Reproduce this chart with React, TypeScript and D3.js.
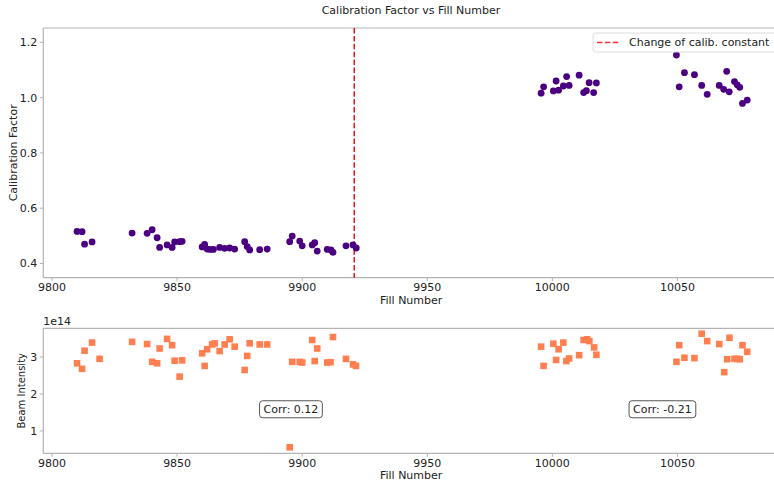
import React, { useEffect, useRef } from 'react';
import * as d3 from 'd3';

// calibration factor per fill (top panel)
const calibFill = [
    9810, 9812, 9813, 9816, 9832, 9838, 9840, 9842, 9843, 9846, 9848, 9849, 9851, 9852,
    9860, 9861, 9862, 9863.2, 9864.5, 9867, 9869, 9871, 9873, 9877, 9878, 9879, 9883, 9886,
    9895, 9896, 9899, 9900, 9904, 9905, 9906, 9910, 9911.5, 9912.3, 9917.5, 9920.3, 9921.6,
    9995.5, 9996.5, 10000.4, 10001.5, 10002.5, 10004.4, 10005.7, 10006.7, 10010.7, 10012.5,
    10013.6, 10014.7, 10016.5, 10017.6, 10049.6, 10050.7, 10052.8, 10056.8, 10059.7, 10061.9,
    10066.7, 10068.5, 10069.7, 10070.7, 10072.8, 10073.9, 10074.9, 10076, 10077.9,
];
const calibFactor = [
    0.516, 0.515, 0.47, 0.478, 0.51, 0.509, 0.522, 0.493, 0.458, 0.467, 0.458, 0.478, 0.479, 0.48,
    0.46, 0.469, 0.452, 0.451, 0.451, 0.458, 0.455, 0.456, 0.452, 0.479, 0.461, 0.449, 0.45, 0.452,
    0.479, 0.499, 0.481, 0.464, 0.467, 0.475, 0.445, 0.451, 0.449, 0.44, 0.464, 0.467, 0.456,
    1.016, 1.039, 1.024, 1.06, 1.027, 1.042, 1.076, 1.044, 1.081, 1.018,
    1.025, 1.054, 1.018, 1.053, 1.154, 1.039, 1.09, 1.083, 1.044, 1.012,
    1.044, 1.03, 1.095, 1.021, 1.058, 1.046, 1.037, 0.979, 0.991,
];

// beam intensity per fill (bottom panel)
const beamFill = [
    9810, 9812, 9813, 9816, 9819, 9832, 9838, 9840, 9842, 9843, 9846, 9848, 9849, 9851, 9852,
    9860, 9861, 9862, 9864, 9865, 9867, 9869, 9871, 9873, 9877, 9878, 9879, 9883, 9886,
    9895, 9896, 9899, 9900, 9904, 9905, 9906, 9910, 9911.3, 9912.3, 9917.5, 9920.3, 9921.5,
    9995.5, 9996.5, 10000.4, 10001.5, 10002.5, 10004.4, 10005.6, 10006.7, 10010.7, 10012.5,
    10013.9, 10014.8, 10016.7, 10017.6, 10049.6, 10050.7, 10052.8, 10056.8, 10059.7, 10061.9,
    10066.7, 10068.7, 10069.9, 10070.8, 10072.8, 10073.9, 10074.9, 10076, 10077.9,
];
const beamIntensity = [
    2.83e14, 2.68e14, 3.17e14, 3.39e14, 2.95e14, 3.41e14, 3.35e14, 2.87e14, 2.83e14, 3.23e14,
    3.49e14, 3.32e14, 2.9e14, 2.47e14, 2.91e14,
    3.1e14, 2.76e14, 3.21e14, 3.34e14, 3.37e14, 3.16e14, 3.34e14, 3.48e14, 3.28e14, 2.65e14,
    3.03e14, 3.37e14, 3.34e14, 3.34e14,
    0.56e14, 2.87e14, 2.87e14, 2.85e14, 3.46e14, 2.89e14, 3.23e14, 2.85e14, 2.86e14, 3.54e14,
    2.95e14, 2.8e14, 2.76e14,
    3.28e14, 2.76e14, 3.36e14, 2.92e14, 3.21e14, 3.39e14, 2.89e14, 2.96e14, 3.05e14, 3.46e14,
    3.48e14, 3.43e14, 3.26e14, 3.06e14, 2.87e14, 3.32e14, 2.98e14, 2.97e14, 3.63e14, 3.43e14,
    3.35e14, 2.59e14, 2.94e14, 3.52e14, 2.95e14, 2.95e14, 2.94e14, 3.32e14, 3.14e14,
];

const xTicks = [9800, 9850, 9900, 9950, 10000, 10050];
const calibTicks = [0.4, 0.6, 0.8, 1.0, 1.2];
const beamTicks = [1e14, 2e14, 3e14];
const changeFill = 9920.8;
const corrLabels = [
    { fill: 9895.5, value: 1.6e14, text: 'Corr: 0.12' },
    { fill: 10044, value: 1.6e14, text: 'Corr: -0.21' },
];

const W = 774;
const H = 481;
const FONT = 'DejaVu Sans, sans-serif';
const SPINE = '#b3b3b3';

const App: React.FC = () => {
    const svgRef = useRef<SVGSVGElement>(null);

    useEffect(() => {
        if (!svgRef.current) return;
        const svg = d3.select(svgRef.current);
        svg.selectAll('*').remove();

        const left = 43.3;
        const right = 779;
        const x = d3.scaleLinear().domain([9796.5, 10090.6]).range([left, right]);

        svg.append('text')
            .attr('x', 411).attr('y', 14)
            .attr('text-anchor', 'middle')
            .style('font-family', FONT).style('font-size', '11px').style('fill', '#222')
            .text('Calibration Factor vs Fill Number');

        // shared helper for spines + ticks
        const drawFrame = (g: d3.Selection<SVGGElement, unknown, null, undefined>, top: number, bottom: number,
                           y: d3.ScaleLinear<number, number>, yTicks: number[], yFmt: (v: number) => string, xLabelY: number) => {
            g.append('line').attr('x1', left).attr('x2', right).attr('y1', top).attr('y2', top)
                .attr('stroke', SPINE).attr('stroke-width', 1.2);
            g.append('line').attr('x1', left).attr('x2', right).attr('y1', bottom).attr('y2', bottom)
                .attr('stroke', SPINE).attr('stroke-width', 1.2);
            g.append('line').attr('x1', left).attr('x2', left).attr('y1', top).attr('y2', bottom)
                .attr('stroke', SPINE).attr('stroke-width', 1.2);

            xTicks.forEach(t => {
                g.append('line').attr('x1', x(t)).attr('x2', x(t)).attr('y1', bottom).attr('y2', bottom + 3.5)
                    .attr('stroke', SPINE).attr('stroke-width', 1);
                g.append('text').attr('x', x(t)).attr('y', bottom + 13.3)
                    .attr('text-anchor', 'middle')
                    .style('font-family', FONT).style('font-size', '11px').style('fill', '#222')
                    .text(t);
            });
            yTicks.forEach(t => {
                g.append('line').attr('x1', left - 3.5).attr('x2', left).attr('y1', y(t)).attr('y2', y(t))
                    .attr('stroke', SPINE).attr('stroke-width', 1);
                g.append('text').attr('x', left - 6).attr('y', y(t)).attr('dy', '0.36em')
                    .attr('text-anchor', 'end')
                    .style('font-family', FONT).style('font-size', '11px').style('fill', '#222')
                    .text(yFmt(t));
            });
            g.append('text').attr('x', (left + right) / 2).attr('y', xLabelY)
                .attr('text-anchor', 'middle')
                .style('font-family', FONT).style('font-size', '11px').style('fill', '#222')
                .text('Fill Number');
        };

        // top panel
        const topT = 28, topB = 277.7;
        const y1 = d3.scaleLinear().domain([0.3486, 1.2517]).range([topB, topT]);
        const g1 = svg.append('g');
        drawFrame(g1, topT, topB, y1, calibTicks, d => d.toFixed(1), 304);

        g1.append('text')
            .attr('transform', `translate(17,${(topT + topB) / 2}) rotate(-90)`)
            .attr('text-anchor', 'middle')
            .style('font-family', FONT).style('font-size', '11px').style('fill', '#222')
            .text('Calibration Factor');

        g1.append('line')
            .attr('x1', x(changeFill)).attr('x2', x(changeFill)).attr('y1', topT).attr('y2', topB)
            .attr('stroke', '#e8141b').attr('stroke-width', 1.5).attr('stroke-dasharray', '5.5,2.4');

        g1.selectAll('circle.pt')
            .data(calibFill.map((f, i) => [f, calibFactor[i]]))
            .enter()
            .append('circle')
            .attr('class', 'pt')
            .attr('cx', d => x(d[0]))
            .attr('cy', d => y1(d[1]))
            .attr('r', 3.4)
            .attr('fill', '#4b0082');

        // legend
        const lg = g1.append('g');
        lg.append('rect').attr('x', 593).attr('y', 33).attr('width', 200).attr('height', 19).attr('rx', 2.5)
            .attr('fill', 'white').attr('fill-opacity', 0.8).attr('stroke', '#dcdcdc').attr('stroke-width', 1);
        lg.append('line').attr('x1', 597).attr('x2', 620).attr('y1', 42.5).attr('y2', 42.5)
            .attr('stroke', '#ff3333').attr('stroke-width', 1.5).attr('stroke-dasharray', '5.5,2.4');
        lg.append('text').attr('x', 629).attr('y', 42.5).attr('dy', '0.36em')
            .style('font-family', FONT).style('font-size', '11px').style('fill', '#222')
            .text('Change of calib. constant');

        // bottom panel
        const botT = 328.3, botB = 453.3;
        const y2 = d3.scaleLinear().domain([0.397e14, 3.776e14]).range([botB, botT]);
        const g2 = svg.append('g');
        drawFrame(g2, botT, botB, y2, beamTicks, d => String(Math.round(d / 1e14)), 479);

        g2.append('text').attr('x', left).attr('y', 325)
            .style('font-family', FONT).style('font-size', '11px').style('fill', '#222')
            .text('1e14');

        g2.append('text')
            .attr('transform', `translate(25,${(botT + botB) / 2}) rotate(-90)`)
            .attr('text-anchor', 'middle')
            .style('font-family', FONT).style('font-size', '10px').style('fill', '#222')
            .text('Beam Intensity');

        const sq = 6.6;
        g2.selectAll('rect.pt')
            .data(beamFill.map((f, i) => [f, beamIntensity[i]]))
            .enter()
            .append('rect')
            .attr('class', 'pt')
            .attr('x', d => x(d[0]) - sq / 2)
            .attr('y', d => y2(d[1]) - sq / 2)
            .attr('width', sq).attr('height', sq)
            .attr('fill', '#ff7f50');

        corrLabels.forEach(c => {
            const cg = g2.append('g');
            const txt = cg.append('text')
                .attr('x', x(c.fill)).attr('y', y2(c.value)).attr('dy', '0.36em')
                .attr('text-anchor', 'middle')
                .style('font-family', FONT).style('font-size', '11px').style('fill', '#222')
                .text(c.text);
            const bb = (txt.node() as SVGTextElement).getBBox();
            cg.insert('rect', 'text')
                .attr('x', bb.x - 4).attr('y', bb.y - 2)
                .attr('width', bb.width + 8).attr('height', bb.height + 4)
                .attr('rx', 3)
                .attr('fill', 'white').attr('stroke', '#555').attr('stroke-width', 1);
        });
    }, []);

    return (
        <svg ref={svgRef} width={W} height={H}
             style={{ position: 'absolute', left: 0, top: 0, background: 'white' }} />
    );
};

export default App;
